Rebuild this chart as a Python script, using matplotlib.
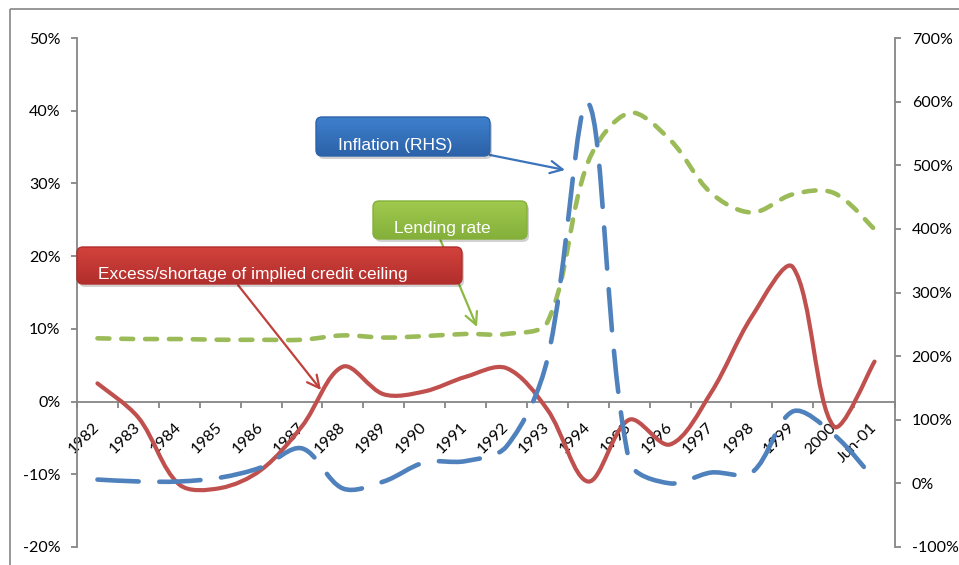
import numpy as np
import matplotlib
matplotlib.use('Agg')
import matplotlib.pyplot as plt
from matplotlib.path import Path
from matplotlib.patches import PathPatch, FancyBboxPatch, Rectangle

# categories along the bottom
years = ['1982', '1983', '1984', '1985', '1986', '1987', '1988', '1989', '1990', '1991',
         '1992', '1993', '1994', '1995', '1996', '1997', '1998', '1999', '2000', 'Jun-01']

# left axis series (%)
credit_gap = [2.5, -2.2, -11.4, -11.9, -9.4, -3.4, 4.8, 1.0, 1.4, 3.4,
              4.6, -1.1, -11.0, -2.5, -5.9, 1.2, 11.7, 18.5, -3.4, 5.5]
lending_rate = [8.7, 8.6, 8.6, 8.5, 8.5, 8.5, 9.1, 8.8, 9.0, 9.3,
                9.3, 10.9, 33.0, 39.7, 36.0, 28.7, 26.0, 28.5, 28.7, 23.7]

# right axis series (%)
inflation = [6, 3, 3, 9, 25, 55, -8, 3, 33, 35,
             58, 195, 598, 35, 0, 17, 17, 113, 77, 6]

RED = '#C0504D'
BLUE = '#4F81BD'
GREEN = '#9BBB59'
GREY = '#868686'


def smooth(ax, ys):
    # bezier through every point; tangents weighted by the on-screen segment
    # lengths, close to the way Excel smooths a line
    xs = np.arange(len(ys))
    pts = ax.transData.transform(np.column_stack([xs, ys]).astype(float))
    n = len(pts)
    verts = [pts[0]]
    codes = [Path.MOVETO]
    for i in range(n - 1):
        p0 = pts[i - 1] if i > 0 else pts[i]
        p1, p2 = pts[i], pts[i + 1]
        p3 = pts[i + 2] if i + 2 < n else pts[i + 1]
        d01 = np.hypot(*(p1 - p0))
        d12 = np.hypot(*(p2 - p1))
        d23 = np.hypot(*(p3 - p2))
        w1 = d12 / (d01 + d12) if d01 > 0 else 0.5
        w2 = d12 / (d12 + d23) if d23 > 0 else 0.5
        c1 = p1 + (p2 - p0) * w1 / 3
        c2 = p2 - (p3 - p1) * w2 / 3
        verts += [c1, c2, p2]
        codes += [Path.CURVE4] * 3
    verts = ax.transData.inverted().transform(np.array(verts))
    return Path(verts, codes)


def curve(ax, ys, color, dashes=None, lw=3.0, z=3):
    pp = PathPatch(smooth(ax, ys), fill=False, edgecolor=color, lw=lw, zorder=z,
                   capstyle='round', joinstyle='round')
    if dashes:
        pp.set_linestyle((0, dashes))
    ax.add_patch(pp)


fig = plt.figure(figsize=(9.59, 5.65), dpi=100)
W, H = 959, 565
ax = fig.add_axes([77 / W, 18 / H, (895 - 77) / W, (547 - 38) / H])
ax2 = ax.twinx()

tick_font = dict(family=['Lato', 'DejaVu Sans'], size=11.5)

# left axis
ax.set_xlim(-0.5, len(years) - 0.5)
ax.set_ylim(-20, 50)
ax.set_yticks(range(-20, 51, 10))
ax.set_yticklabels([f'{v}%' for v in range(-20, 51, 10)], **tick_font)
for s in ['top', 'right']:
    ax.spines[s].set_visible(False)
ax.spines['left'].set_color(GREY)
ax.spines['bottom'].set_color(GREY)
ax.spines['bottom'].set_position(('data', 0))
ax.spines['left'].set_linewidth(1.3)
ax.spines['bottom'].set_linewidth(1.3)
ax.tick_params(axis='y', colors=GREY, length=4, width=1.3, pad=8, labelcolor='black')
ax.set_xticks(np.arange(len(years) + 1) - 0.5)
ax.set_xticklabels([])
ax.tick_params(axis='x', which='major', colors=GREY, length=4, width=1.3)
ax.set_xticks(np.arange(len(years)), minor=True)
ax.set_xticklabels(years, minor=True, rotation=45, ha='right', va='center',
                   rotation_mode='anchor', **tick_font)
ax.tick_params(axis='x', which='minor', length=0, pad=17)

# right axis
ax2.set_ylim(-100, 700)
ax2.set_yticks(range(-100, 701, 100))
ax2.set_yticklabels([f'{v}%' for v in range(-100, 701, 100)], **tick_font)
for s in ['top', 'left', 'bottom']:
    ax2.spines[s].set_visible(False)
ax2.spines['right'].set_color(GREY)
ax2.spines['right'].set_linewidth(1.3)
ax2.tick_params(axis='y', colors=GREY, length=4, width=1.3, pad=8, labelcolor='black')

# lines: inflation on the right scale, the rest on the left
curve(ax2, inflation, BLUE, dashes=(9, 4.5), lw=3.3, z=3)
curve(ax, lending_rate, GREEN, dashes=(2.6, 2.6), lw=3.3, z=4)
curve(ax, credit_gap, RED, lw=3.0, z=5)

# overlay in pixel space for the callouts and the frame
ov = fig.add_axes([0, 0, 1, 1], zorder=10)
ov.axis('off')
ov.add_patch(Rectangle((10, 9), W + 20, H + 20, fill=False, edgecolor=GREY, lw=1.2))

box_font = ['Liberation Sans Narrow', 'Liberation Sans', 'DejaVu Sans']


def callout(x0, y0, x1, y1, top, bottom, label, tx, ty, size=12.5):
    top = np.array(top) / 255
    bottom = np.array(bottom) / 255
    shadow = FancyBboxPatch((x0 + 2, y0 + 3), x1 - x0, y1 - y0,
                            boxstyle='round,pad=0,rounding_size=6',
                            facecolor='black', edgecolor='none', alpha=0.18, zorder=2)
    ov.add_patch(shadow)
    box = FancyBboxPatch((x0, y0), x1 - x0, y1 - y0,
                         boxstyle='round,pad=0,rounding_size=6',
                         facecolor='none', edgecolor=bottom, lw=1, zorder=4)
    ov.add_patch(box)
    t = np.linspace(0, 1, 64)[:, None]
    grad = top[None, :] * (1 - t) + bottom[None, :] * t
    img = ov.imshow(grad[:, None, :], extent=(x0, x1, y1, y0),
                    aspect='auto', zorder=3, interpolation='bilinear')
    img.set_clip_path(box)
    ov.text(tx, ty, label, color='white', fontsize=size, family=box_font,
            ha='left', va='baseline', zorder=5)


def arrow(tail, head, color):
    ov.annotate('', xy=head, xytext=tail, zorder=1,
                arrowprops=dict(arrowstyle='->', color=color, lw=1.6,
                                mutation_scale=22, shrinkA=0, shrinkB=0))


arrow((490, 155), (565, 170), '#3C74BC')
arrow((440, 239), (477, 327), '#8DB843')
arrow((238, 285), (321, 390), '#C0403A')

callout(316, 117, 490, 156, (62, 128, 205), (44, 98, 168), 'Inflation (RHS)', 338, 150)
callout(373, 201, 527, 239, (160, 201, 78), (132, 176, 58), 'Lending rate', 394, 233)
callout(77, 247, 462, 284, (212, 66, 60), (176, 46, 44),
        'Excess/shortage of implied credit ceiling', 98, 279)
ov.set_xlim(0, W)
ov.set_ylim(H, 0)

fig.savefig('out.png', dpi=100)
